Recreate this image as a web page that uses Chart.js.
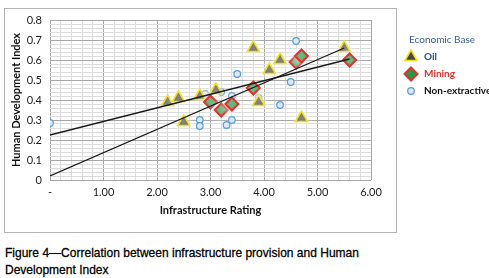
<!DOCTYPE html>
<html lang="en">
<head>
<meta charset="UTF-8">
<title>Infrastructure vs HDI</title>
<script src="https://cdn.jsdelivr.net/npm/chart.js"></script>
<style>
  body { margin: 0; background: #fff; }
  #wrap { position: relative; width: 489px; height: 278px; }
  #caption {
    position: absolute; left: 5px; top: 244px;
    font-family: "Liberation Sans", Arial, sans-serif;
    font-size: 13.5px; line-height: 17px; color: #000;
    -webkit-text-stroke: 0.3px #000;
    transform-origin: 0 0; transform: scaleX(0.89);
    white-space: nowrap;
  }
</style>
</head>
<body>
<div id="wrap">
  <canvas id="grafica" width="489" height="240"></canvas>
  <div id="caption">Figure 4—Correlation between infrastructure provision and Human<br>Development Index</div>
</div>
<script>
// Oil
const oilX = [2.2, 2.4, 2.5, 2.8, 3.1, 3.8, 3.9, 4.1, 4.3, 4.7, 5.5];
const oilY = [0.39, 0.41, 0.29, 0.42, 0.45, 0.66, 0.39, 0.55, 0.60, 0.31, 0.66];
// Mining
const miningX = [3.0, 3.2, 3.4, 3.8, 4.6, 4.7, 5.6];
const miningY = [0.39, 0.35, 0.38, 0.46, 0.59, 0.62, 0.60];
// Non-extractive
const nonExtX = [0, 2.8, 2.8, 2.9, 3.2, 3.3, 3.4, 3.4, 3.5, 3.9, 4.3, 4.5, 4.6];
const nonExtY = [0.285, 0.30, 0.27, 0.43, 0.44, 0.275, 0.30, 0.42, 0.53, 0.41, 0.375, 0.49, 0.695];
// trend lines (end points)
const trend1X = [0, 5.5];
const trend1Y = [0.02, 0.66];
const trend2X = [0, 5.6];
const trend2Y = [0.225, 0.605];

const toPts = (xs, ys) => xs.map((x, i) => ({ x: x, y: ys[i] }));

const fuente = 'Lato, "Open Sans", sans-serif';

function esMayor(v, paso) {
  return Math.abs(v / paso - Math.round(v / paso)) < 1e-6;
}

// white glow around markers, like the excel picture
const halo = {
  id: 'halo',
  beforeDatasetDraw(chart, args) {
    const ds = chart.data.datasets[args.index];
    if (ds.halo) {
      chart.ctx.save();
      chart.ctx.shadowColor = 'rgba(255,255,255,1)';
      chart.ctx.shadowBlur = ds.halo;
    }
  },
  afterDatasetDraw(chart, args) {
    if (chart.data.datasets[args.index].halo) chart.ctx.restore();
  }
};

const marco = {
  id: 'marco',
  beforeDraw(chart) {
    const c = chart.ctx;
    c.save();
    c.fillStyle = '#fff';
    c.fillRect(0, 0, chart.width, chart.height);
    c.strokeStyle = '#b4b4b4';
    c.lineWidth = 1;
    c.strokeRect(4.5, 8.5, 392, 224);
    c.restore();
  }
};

const leyenda = {
  id: 'leyenda',
  afterDraw(chart) {
    const c = chart.ctx;
    c.save();
    c.textBaseline = 'middle';
    c.font = '10px ' + fuente;
    c.fillStyle = '#3d5c94';
    c.fillText('Economic Base', 409, 40);
    const items = [
      { ds: 3, text: 'Oil', color: '#2f4f8f', y: 57 },
      { ds: 2, text: 'Mining', color: '#e8302a', y: 74 },
      { ds: 4, text: 'Non-extractive', color: '#111', y: 91 }
    ];
    items.forEach(it => {
      const d = chart.data.datasets[it.ds];
      c.fillStyle = d.pointBackgroundColor;
      c.strokeStyle = d.pointBorderColor;
      c.lineWidth = d.pointBorderWidth;
      Chart.helpers.drawPoint(c, { pointStyle: d.pointStyle, radius: d.pointRadius, borderWidth: d.pointBorderWidth }, 411, it.y);
      c.font = 'bold 10px ' + fuente;
      c.fillStyle = it.color;
      c.fillText(it.text, 424, it.y);
    });
    c.restore();
  }
};

new Chart(document.getElementById('grafica'), {
  type: 'scatter',
  data: {
    datasets: [
      {
        label: 'trend 1', data: toPts(trend1X, trend1Y), showLine: true,
        borderColor: '#1a1a1a', borderWidth: 1.3, pointRadius: 0, fill: false
      },
      {
        label: 'trend 2', data: toPts(trend2X, trend2Y), showLine: true,
        borderColor: '#1a1a1a', borderWidth: 1.3, pointRadius: 0, fill: false
      },
      {
        label: 'Mining', data: toPts(miningX, miningY), pointStyle: 'rectRot',
        pointRadius: 6.5, pointBackgroundColor: '#1f9a4a', pointBorderColor: '#e8302a',
        pointBorderWidth: 2, halo: 8
      },
      {
        label: 'Oil', data: toPts(oilX, oilY), pointStyle: 'triangle',
        pointRadius: 7, pointBackgroundColor: '#454545', pointBorderColor: '#f0e21a',
        pointBorderWidth: 1.6, halo: 6
      },
      {
        label: 'Non-extractive', data: toPts(nonExtX, nonExtY), pointStyle: 'circle',
        pointRadius: 3.3, pointBackgroundColor: '#dbe8f6', pointBorderColor: '#5b9bd5',
        pointBorderWidth: 1.2
      }
    ]
  },
  options: {
    responsive: false,
    animation: false,
    layout: { padding: { top: 20, right: 118, left: 0, bottom: 20 } },
    plugins: { legend: { display: false }, tooltip: { enabled: false } },
    scales: {
      x: {
        type: 'linear', min: 0, max: 6,
        afterFit: s => { s.height = 40; },
        ticks: {
          stepSize: 0.2, autoSkip: false, maxRotation: 0, padding: 6,
          color: '#222', font: { family: fuente, size: 11 },
          callback: v => esMayor(v, 1) ? (Math.round(v) === 0 ? '-' : v.toFixed(2)) : ''
        },
        grid: {
          drawTicks: false,
          color: ctx => esMayor(ctx.tick.value, 1) ? '#a8a8a8' : '#dcdcdc'
        },
        border: { display: false },
        title: {
          display: true, text: 'Infrastructure Rating', color: '#111',
          font: { family: fuente, size: 11, weight: 'bold' }, padding: { top: 4, bottom: 3 }
        }
      },
      y: {
        min: 0, max: 0.8,
        afterFit: s => { s.width = 50; },
        ticks: {
          stepSize: 0.02, autoSkip: false, padding: 8,
          color: '#222', font: { family: fuente, size: 11 },
          callback: v => esMayor(v, 0.1) ? (Math.round(v * 10) === 0 ? '0' : (Math.round(v * 10) / 10).toString()) : ''
        },
        grid: {
          drawTicks: false,
          color: ctx => esMayor(ctx.tick.value, 0.1) ? '#a8a8a8' : '#dcdcdc'
        },
        border: { display: false },
        title: {
          display: true, text: 'Human Development Index', color: '#111',
          font: { family: fuente, size: 11, weight: 'bold' }, padding: { top: 10, bottom: 4 }
        }
      }
    }
  },
  plugins: [marco, halo, leyenda]
});
</script>
</body>
</html>
